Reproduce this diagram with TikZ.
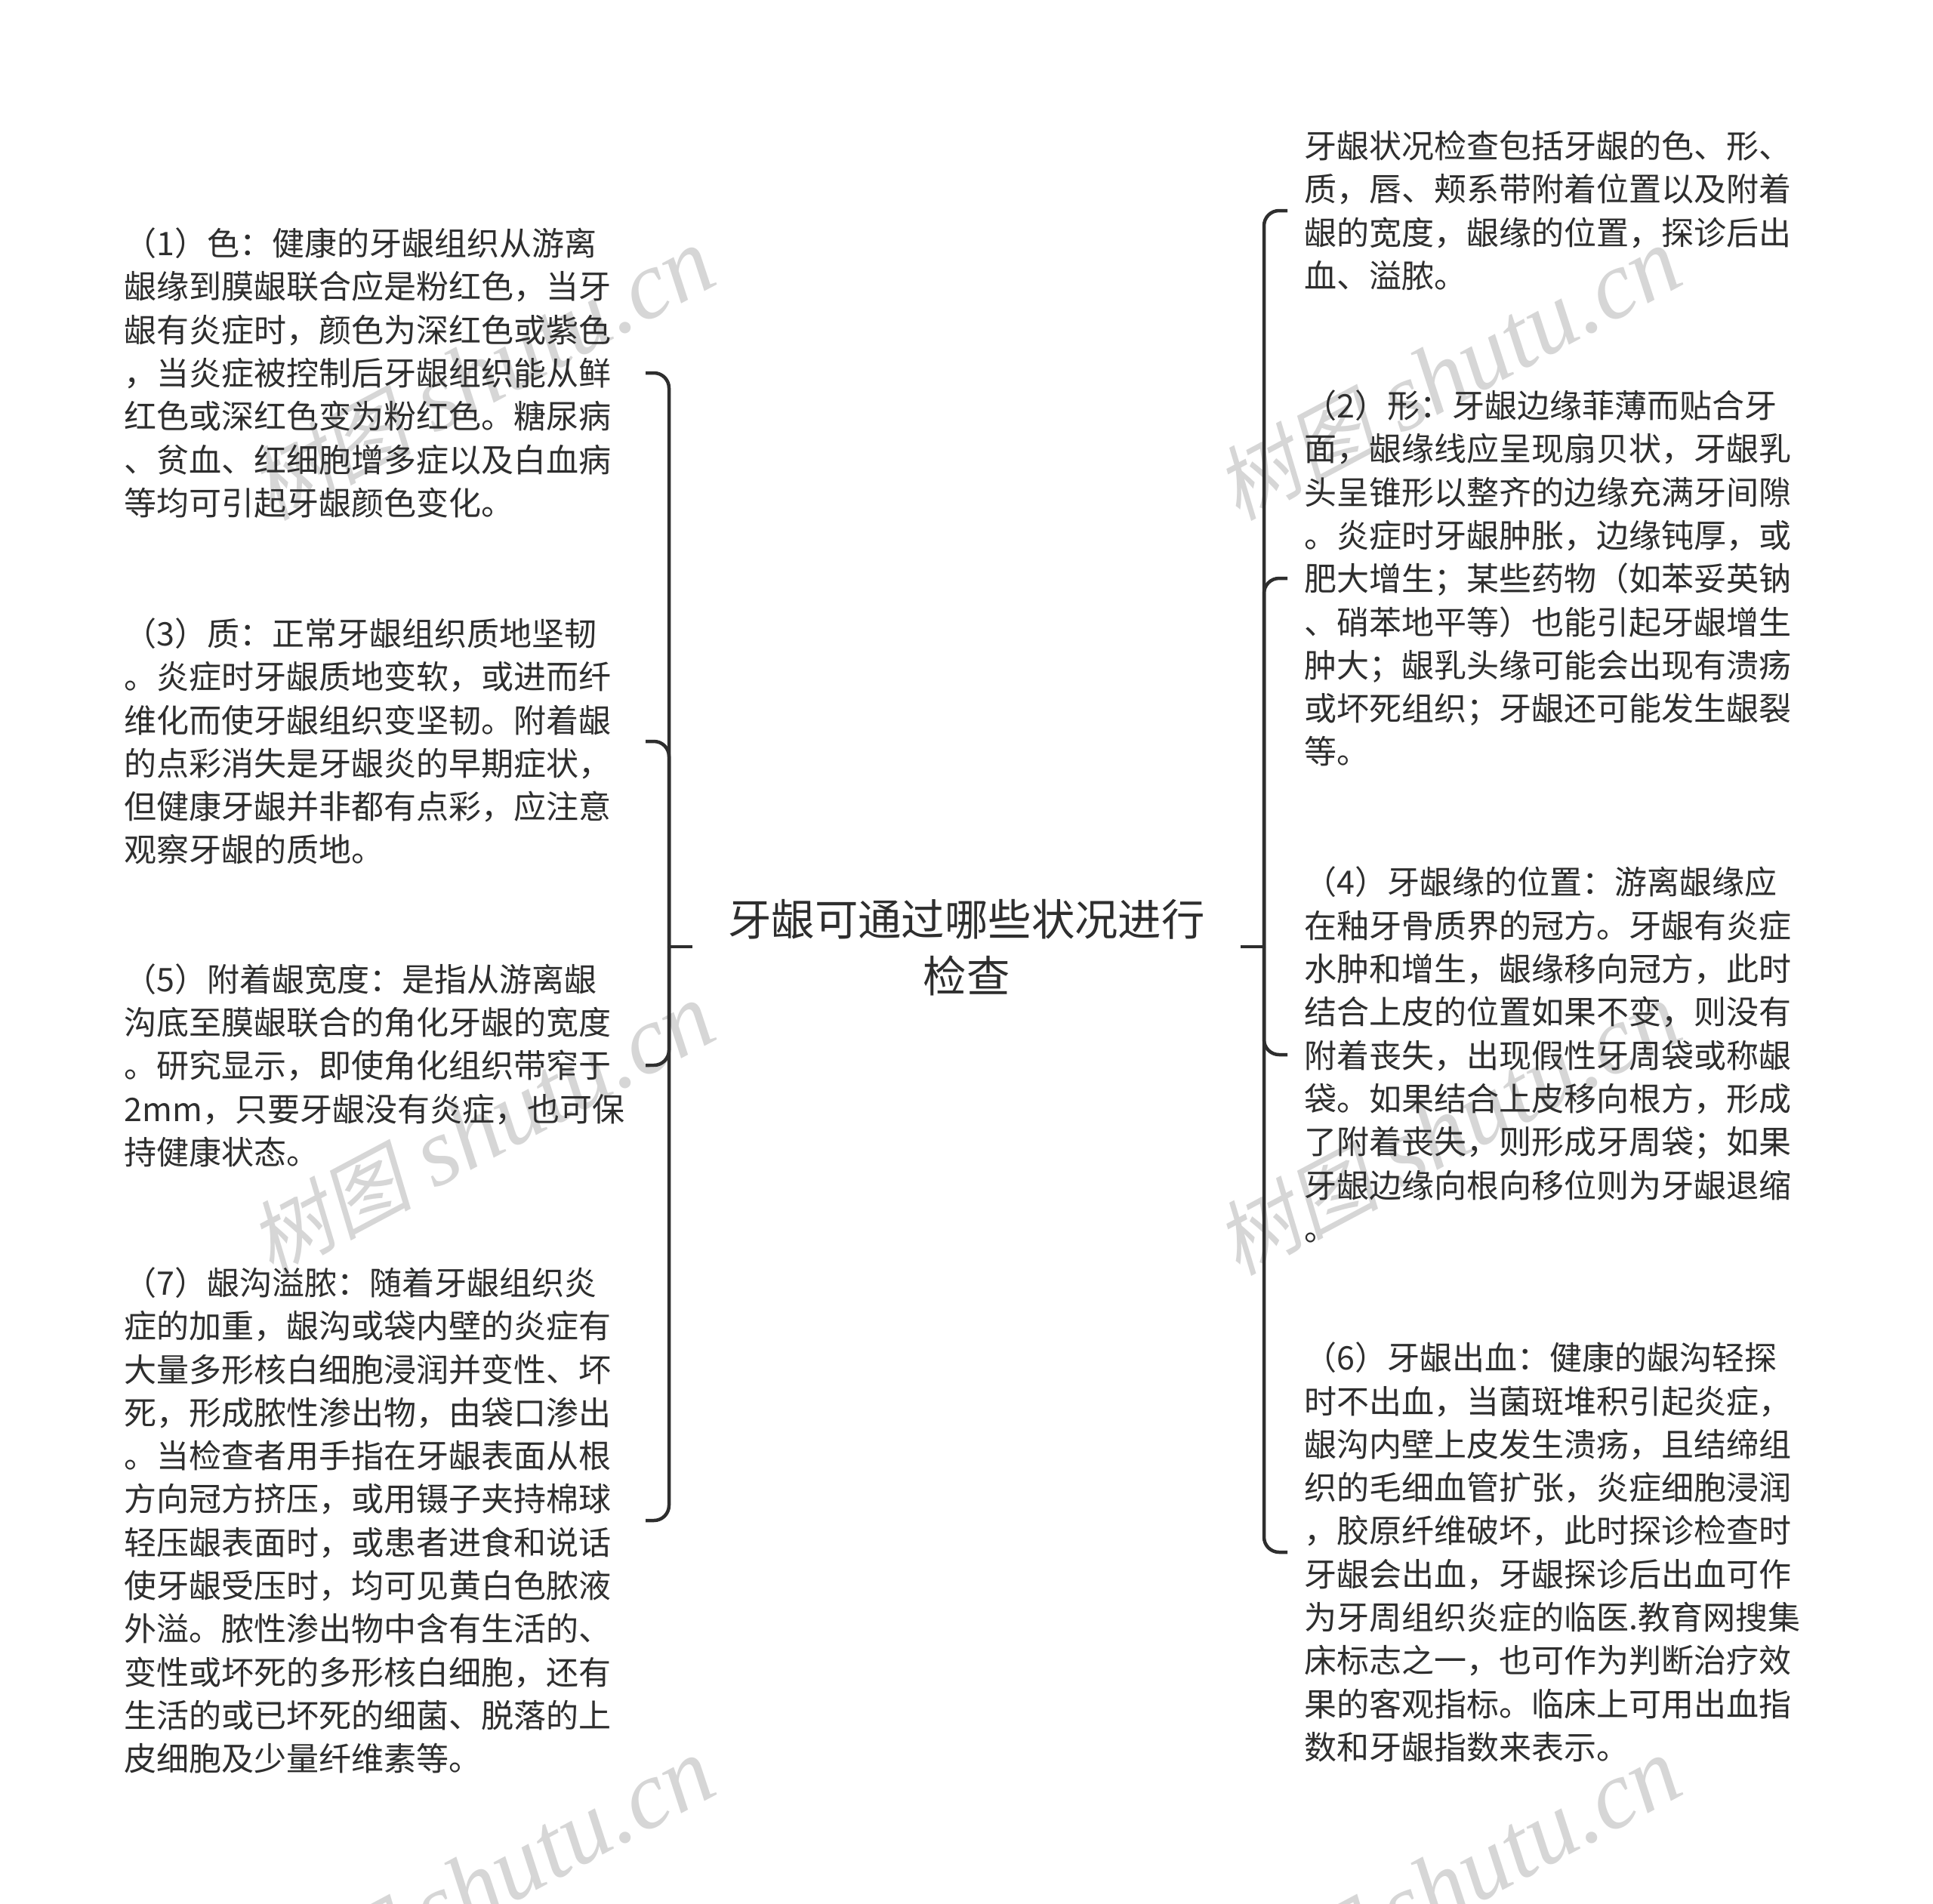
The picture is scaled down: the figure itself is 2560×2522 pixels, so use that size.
\documentclass[tikz,border=0pt]{standalone}
\usepackage{fontspec}
\setmainfont{Noto Sans CJK SC}
\newfontfamily\wmlatin{Liberation Serif}
\newfontfamily\wmcjk[FakeSlant=0.2]{Noto Sans CJK SC}
\definecolor{ink}{HTML}{2E2E2E}
\definecolor{wm}{HTML}{D6D6D6}
\newcommand{\wmtext}{{\wmcjk\fontsize{108}{108}\selectfont 树图}\hspace{28pt}{\wmlatin\itshape\fontsize{128}{128}\selectfont shutu.cn}}
\tikzset{
  conn/.style={draw=ink,line width=4.5pt},
  branchline/.style={conn,rounded corners=20pt},
  blocktext/.style={text=ink,font=\fontsize{43}{57.3}\selectfont,align=left,text width=645pt,inner ysep=0pt},
  leftblock/.style={blocktext,anchor=east,inner xsep=45pt},
  rightblock/.style={blocktext,anchor=west,inner xsep=22pt},
  rootnode/.style={text=ink,font=\fontsize{57.4}{75}\selectfont,align=center,text width=640pt,inner xsep=43pt,inner ysep=0pt},
  wmstyle/.style={text=wm,rotate=28,inner sep=0pt,anchor=center}
}
\begin{document}
\begin{tikzpicture}[x=1pt,y=-1pt]
\useasboundingbox (0,0) rectangle (2560,2522);
\fill[white] (0,0) rectangle (2560,2522);
\begin{scope}
\clip (0,0) rectangle (2560,2522);
\node[wmstyle] (w1) at (638,496) {\wmtext};
\node[wmstyle] (w2) at (638,1496) {\wmtext};
\node[wmstyle] (w3) at (638,2496) {\wmtext};
\node[wmstyle] (w4) at (1918,496) {\wmtext};
\node[wmstyle] (w5) at (1918,1496) {\wmtext};
\node[wmstyle] (w6) at (1918,2496) {\wmtext};
\end{scope}
\node[rootnode] (root) at (1280,1255) {牙龈可通过哪些状况进行\\检查};
\node[leftblock] (l1) at (855,494) {（1）色：健康的牙龈组织从游离\\龈缘到膜龈联合应是粉红色，当牙\\龈有炎症时，颜色为深红色或紫色\\，当炎症被控制后牙龈组织能从鲜\\红色或深红色变为粉红色。糖尿病\\、贫血、红细胞增多症以及白血病\\等均可引起牙龈颜色变化。};
\node[leftblock] (l3) at (855,982) {（3）质：正常牙龈组织质地坚韧\\。炎症时牙龈质地变软，或进而纤\\维化而使牙龈组织变坚韧。附着龈\\的点彩消失是牙龈炎的早期症状，\\但健康牙龈并非都有点彩，应注意\\观察牙龈的质地。};
\node[leftblock] (l5) at (855,1411) {（5）附着龈宽度：是指从游离龈\\沟底至膜龈联合的角化牙龈的宽度\\。研究显示，即使角化组织带窄于\\2mm，只要牙龈没有炎症，也可保\\持健康状态。};
\node[leftblock] (l7) at (855,2014) {（7）龈沟溢脓：随着牙龈组织炎\\症的加重，龈沟或袋内壁的炎症有\\大量多形核白细胞浸润并变性、坏\\死，形成脓性渗出物，由袋口渗出\\。当检查者用手指在牙龈表面从根\\方向冠方挤压，或用镊子夹持棉球\\轻压龈表面时，或患者进食和说话\\使牙龈受压时，均可见黄白色脓液\\外溢。脓性渗出物中含有生活的、\\变性或坏死的多形核白细胞，还有\\生活的或已坏死的细菌、脱落的上\\皮细胞及少量纤维素等。};
\node[rightblock] (r0) at (1705,279) {牙龈状况检查包括牙龈的色、形、\\质，唇、颊系带附着位置以及附着\\龈的宽度，龈缘的位置，探诊后出\\血、溢脓。};
\node[rightblock] (r2) at (1705,766) {（2）形：牙龈边缘菲薄而贴合牙\\面，龈缘线应呈现扇贝状，牙龈乳\\头呈锥形以整齐的边缘充满牙间隙\\。炎症时牙龈肿胀，边缘钝厚，或\\肥大增生；某些药物（如苯妥英钠\\、硝苯地平等）也能引起牙龈增生\\肿大；龈乳头缘可能会出现有溃疡\\或坏死组织；牙龈还可能发生龈裂\\等。};
\node[rightblock] (r4) at (1705,1397) {（4）牙龈缘的位置：游离龈缘应\\在釉牙骨质界的冠方。牙龈有炎症\\水肿和增生，龈缘移向冠方，此时\\结合上皮的位置如果不变，则没有\\附着丧失，出现假性牙周袋或称龈\\袋。如果结合上皮移向根方，形成\\了附着丧失，则形成牙周袋；如果\\牙龈边缘向根向移位则为牙龈退缩\\。};
\node[rightblock] (r6) at (1705,2056) {（6）牙龈出血：健康的龈沟轻探\\时不出血，当菌斑堆积引起炎症，\\龈沟内壁上皮发生溃疡，且结缔组\\织的毛细血管扩张，炎症细胞浸润\\，胶原纤维破坏，此时探诊检查时\\牙龈会出血，牙龈探诊后出血可作\\为牙周组织炎症的临医.教育网搜集\\床标志之一，也可作为判断治疗效\\果的客观指标。临床上可用出血指\\数和牙龈指数来表示。};
\coordinate (jl) at (886,1254);
\coordinate (jr) at (1674,1254);
\draw[conn] (root.west |- jl) -- (jl);
\draw[conn] (root.east |- jr) -- (jr);
\foreach \n in {l1,l3,l5,l7} \draw[branchline] (jl) |- (\n.east);
\foreach \n in {r0,r2,r4,r6} \draw[branchline] (jr) |- (\n.west);
\end{tikzpicture}
\end{document}
